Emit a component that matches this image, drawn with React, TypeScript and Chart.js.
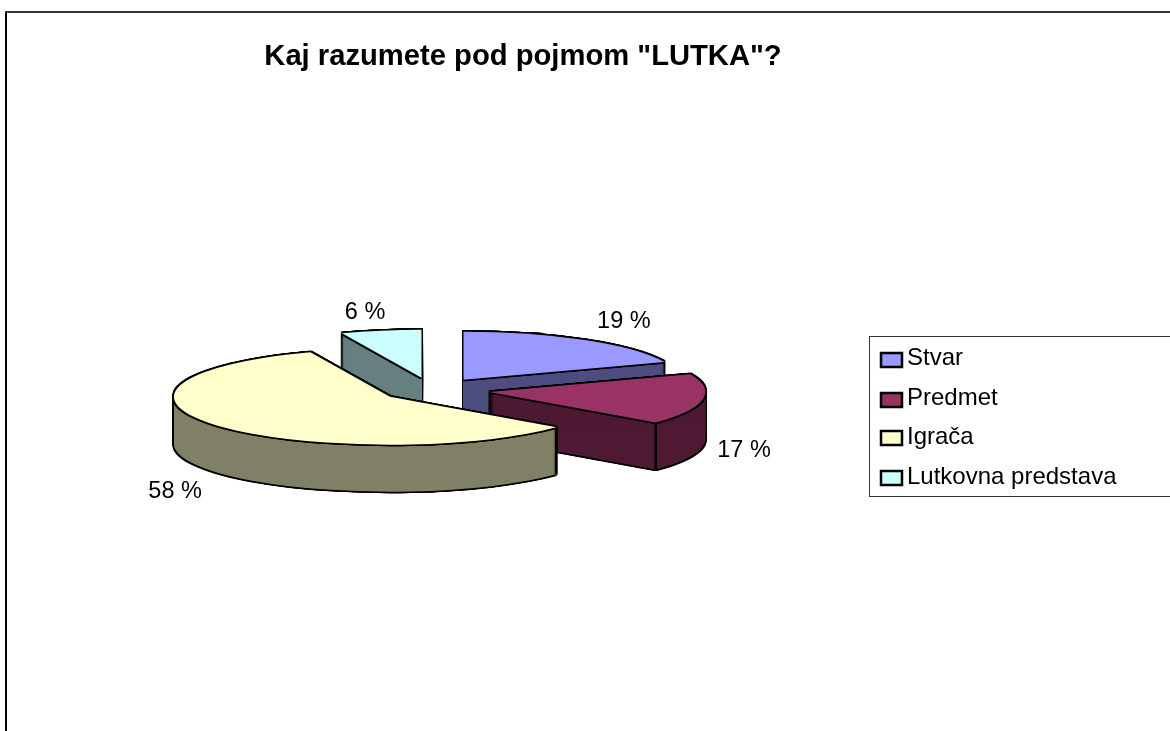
import React, { useEffect, useRef } from "react";
import { Chart, registerables } from "chart.js";

Chart.register(...registerables);

const titleText = 'Kaj razumete pod pojmom "LUTKA"?';
const categories = ["Stvar", "Predmet", "Igrača", "Lutkovna predstava"];
const shares = [19, 17, 58, 6];
const topColors = ["#9999FF", "#993366", "#FFFFCC", "#CCFFFF"];
const wallColors = ["#4D4D80", "#4D1933", "#808066", "#668080"];
const explode = [56, 58, 52, 56];
const drawOrder = [3, 0, 1, 2];
const labelNudges = [[12, -10], [-4, 49], [2, 60], [-7, -8]];
const legendRowsY = [352, 392, 430, 470];
const legendTextBaselines = [365, 405, 444, 484];

const RADIUS = 216;
const SQUASH = 0.222;
const DEPTH = 47;
const LABEL_RADIUS = 320;
const FONT = '"Liberation Sans", Arial, sans-serif';

const pie3d = {
  id: "pie3d",
  beforeDraw(chart: any) {
    const { ctx, width, height } = chart;
    ctx.save();
    ctx.fillStyle = "#fff";
    ctx.fillRect(0, 0, width, height);
    ctx.fillStyle = "#000";
    ctx.fillRect(5, 12, 2, height - 12);
    ctx.fillStyle = "#333";
    ctx.fillRect(5, 11, width - 5, 2);
    ctx.restore();
  },
  beforeDatasetDraw(chart: any) {
    const { ctx } = chart;
    const arcs = chart.getDatasetMeta(0).data;
    const paint = (arc: any, i: number, color: string, sx: number, sy: number) => {
      const saved = arc.options;
      const mid = (arc.startAngle + arc.endAngle) / 2;
      arc.options = { ...saved, backgroundColor: color, borderWidth: 0, offset: 0, spacing: 0 };
      ctx.save();
      ctx.translate(sx, sy + arc.y);
      ctx.scale(1, SQUASH);
      ctx.translate(0, -arc.y);
      ctx.translate(Math.cos(mid) * explode[i], Math.sin(mid) * explode[i]);
      arc.draw(ctx);
      ctx.restore();
      arc.options = saved;
    };
    const W = 1.5;
    const rim = [[-W, -W], [0, -W], [W, -W], [-W, 0], [W, 0], [-W, W], [0, W], [W, W]];
    for (const i of drawOrder) {
      const arc = arcs[i];
      const mid = (arc.startAngle + arc.endAngle) / 2;
      for (let d = 0; d <= DEPTH; d += 1) {
        for (const [sx, sy] of rim) paint(arc, i, "#000", sx, d + sy);
      }
      for (let d = 0; d <= DEPTH; d += 1) paint(arc, i, wallColors[i], 0, d);
      for (const a of [arc.startAngle, arc.endAngle]) {
        if (Math.sin(a) > 0.1) {
          const px = arc.x + Math.cos(mid) * explode[i] + Math.cos(a) * arc.outerRadius;
          const py = arc.y + (Math.sin(mid) * explode[i] + Math.sin(a) * arc.outerRadius) * SQUASH;
          ctx.save();
          ctx.strokeStyle = "#000";
          ctx.lineWidth = 2.5;
          ctx.beginPath();
          ctx.moveTo(px, py);
          ctx.lineTo(px, py + DEPTH);
          ctx.stroke();
          ctx.restore();
        }
      }
      for (const [sx, sy] of rim) paint(arc, i, "#000", sx, sy);
      paint(arc, i, topColors[i], 0, 0);
    }
    return false;
  },
  afterDraw(chart: any) {
    const { ctx, width } = chart;
    const arcs = chart.getDatasetMeta(0).data;
    ctx.save();
    ctx.fillStyle = "#000";
    ctx.textBaseline = "alphabetic";

    ctx.font = `bold 29.2px ${FONT}`;
    ctx.textAlign = "center";
    ctx.fillText(titleText, 523, 65);

    ctx.font = `23.5px ${FONT}`;
    shares.forEach((v, i) => {
      const arc = arcs[i];
      const mid = (arc.startAngle + arc.endAngle) / 2;
      const x = arc.x + Math.cos(mid) * LABEL_RADIUS + labelNudges[i][0];
      const y = arc.y + Math.sin(mid) * LABEL_RADIUS * SQUASH + labelNudges[i][1];
      ctx.textBaseline = "middle";
      ctx.fillText(`${v} %`, x, y);
    });

    ctx.textBaseline = "alphabetic";
    ctx.textAlign = "left";
    ctx.strokeStyle = "#333";
    ctx.lineWidth = 1;
    ctx.strokeRect(869.5, 336.5, width, 160);
    categories.forEach((name, i) => {
      const y = legendRowsY[i];
      ctx.fillStyle = topColors[i];
      ctx.strokeStyle = "#000";
      ctx.lineWidth = 2.5;
      ctx.fillRect(881, y + 1, 21, 14);
      ctx.strokeRect(881, y + 1, 21, 14);
      ctx.fillStyle = "#000";
      ctx.font = `24px ${FONT}`;
      ctx.fillText(name, 907, legendTextBaselines[i]);
    });
    ctx.restore();
  },
};

export default function App() {
  const ref = useRef<HTMLCanvasElement>(null);
  useEffect(() => {
    const chart = new Chart(ref.current as HTMLCanvasElement, {
      type: "pie",
      data: {
        labels: categories,
        datasets: [{ data: shares, backgroundColor: topColors, borderWidth: 0 }],
      },
      options: {
        responsive: false,
        animation: false,
        radius: RADIUS,
        layout: { padding: { top: 49, right: 306 } },
        plugins: { legend: { display: false }, title: { display: false }, tooltip: { enabled: false } },
      } as any,
      plugins: [pie3d as any],
    });
    return () => chart.destroy();
  }, []);
  return (
    <div style={{ position: "absolute", left: 0, top: 0, width: 1170, height: 731 }}>
      <canvas ref={ref} width={1170} height={731} style={{ display: "block" }} />
    </div>
  );
}
